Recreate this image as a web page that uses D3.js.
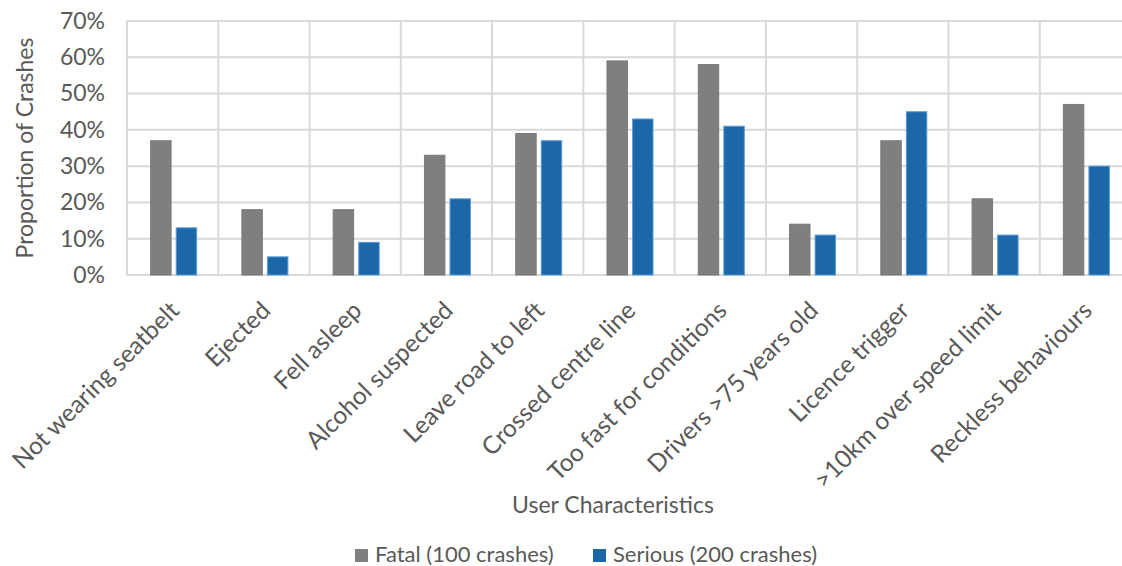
<!DOCTYPE html>
<html>
<head>
<meta charset="utf-8">
<script src="https://cdn.jsdelivr.net/npm/d3@7"></script>
<style>
  html, body { margin: 0; padding: 0; background: #fff; }
  svg { display: block; }
  text { font-family: Lato, "Open Sans", sans-serif; fill: #595959; }
</style>
</head>
<body>
<svg id="chart" width="1122" height="566"></svg>
<script>
// Crash characteristics: share of fatal and serious crashes
const categories = [
  "Not wearing seatbelt", "Ejected", "Fell asleep", "Alcohol suspected",
  "Leave road to left", "Crossed centre line", "Too fast for conditions",
  "Drivers >75 years old", "Licence trigger", ">10km over speed limit",
  "Reckless behaviours"
];
const seriesNames = ["Fatal (100 crashes)", "Serious (200 crashes)"];
const fatal   = [0.37, 0.18, 0.18, 0.33, 0.39, 0.59, 0.58, 0.14, 0.37, 0.21, 0.47];
const serious = [0.13, 0.05, 0.09, 0.21, 0.37, 0.43, 0.41, 0.11, 0.45, 0.11, 0.30];
const yTicks = [0, 0.1, 0.2, 0.3, 0.4, 0.5, 0.6, 0.7];

const fills   = ["#7f7f7f", "#1c67a8"];
const strokes = ["#7a7a7a", "#5b9bd5"];
const FONT = "23px";

const svg = d3.select("#chart");
const plot = { left: 127, right: 1131, top: 21, bottom: 275 };

const x = d3.scaleBand().domain(categories).range([plot.left, plot.right]).padding(0);
const x1 = d3.scaleBand().domain(seriesNames).range([-22, 24]).paddingInner(0.2).paddingOuter(0);
const y = d3.scaleLinear().domain([0, 0.7]).range([plot.bottom, plot.top]);

const grid = svg.append("g");
// horizontal gridlines
grid.selectAll("line.h").data(yTicks).join("line")
  .attr("class", "h")
  .attr("x1", plot.left).attr("x2", plot.right)
  .attr("y1", d => y(d)).attr("y2", d => y(d))
  .attr("stroke", "#d9d9d9").attr("stroke-width", 2);
// vertical gridlines at category boundaries
const bounds = categories.map(c => x(c)).concat([plot.right]);
grid.selectAll("line.v").data(bounds).join("line")
  .attr("class", "v")
  .attr("x1", d => d).attr("x2", d => d)
  .attr("y1", plot.top).attr("y2", plot.bottom)
  .attr("stroke", "#d9d9d9").attr("stroke-width", 2);

// y axis
const yAxis = svg.append("g")
  .attr("transform", `translate(${plot.left},0)`)
  .call(d3.axisLeft(y).tickValues(yTicks).tickFormat(d3.format(".0%")).tickSize(0).tickPadding(22));
yAxis.select(".domain").remove();
yAxis.selectAll("text").style("font-size", FONT).attr("fill", "#595959")
  .style("font-family", "Lato, 'Open Sans', sans-serif");

// bars
const rows = categories.map((c, i) => ({ c, vals: [fatal[i], serious[i]] }));
const groups = svg.append("g").selectAll("g").data(rows).join("g")
  .attr("transform", d => `translate(${x(d.c) + x.bandwidth() / 2},0)`);
groups.selectAll("rect").data(d => d.vals.map((v, k) => ({ v, k }))).join("rect")
  .attr("x", d => x1(seriesNames[d.k]))
  .attr("width", x1.bandwidth())
  .attr("y", d => y(d.v))
  .attr("height", d => y(0) - y(d.v))
  .attr("fill", d => fills[d.k])
  .attr("stroke", d => strokes[d.k])
  .attr("stroke-width", 1);

// x axis category labels, rotated
const xAxis = svg.append("g")
  .attr("transform", `translate(0,${plot.bottom})`)
  .call(d3.axisBottom(x).tickSize(0).tickPadding(0));
xAxis.select(".domain").remove();
xAxis.selectAll("text")
  .style("font-size", "24.5px").attr("fill", "#595959")
  .style("font-family", "Lato, 'Open Sans', sans-serif")
  .attr("text-anchor", "end")
  .attr("dy", "0.35em")
  .attr("y", 0)
  .attr("transform", "translate(2,31) rotate(-45)");

// axis titles
svg.append("text")
  .attr("transform", `translate(33,${(plot.top + plot.bottom) / 2}) rotate(-90)`)
  .attr("text-anchor", "middle")
  .style("font-size", FONT)
  .text("Proportion of Crashes");
svg.append("text")
  .attr("x", 613).attr("y", 513)
  .attr("text-anchor", "middle")
  .style("font-size", FONT)
  .text("User Characteristics");

// legend
const legendX = [355, 593];
const legend = svg.append("g").selectAll("g").data(seriesNames).join("g")
  .attr("transform", (d, i) => `translate(${legendX[i]},549)`);
legend.append("rect").attr("width", 13).attr("height", 13)
  .attr("fill", (d, i) => fills[i]);
legend.append("text").attr("x", 20).attr("y", 13)
  .style("font-size", "22px")
  .text(d => d);
</script>
</body>
</html>
